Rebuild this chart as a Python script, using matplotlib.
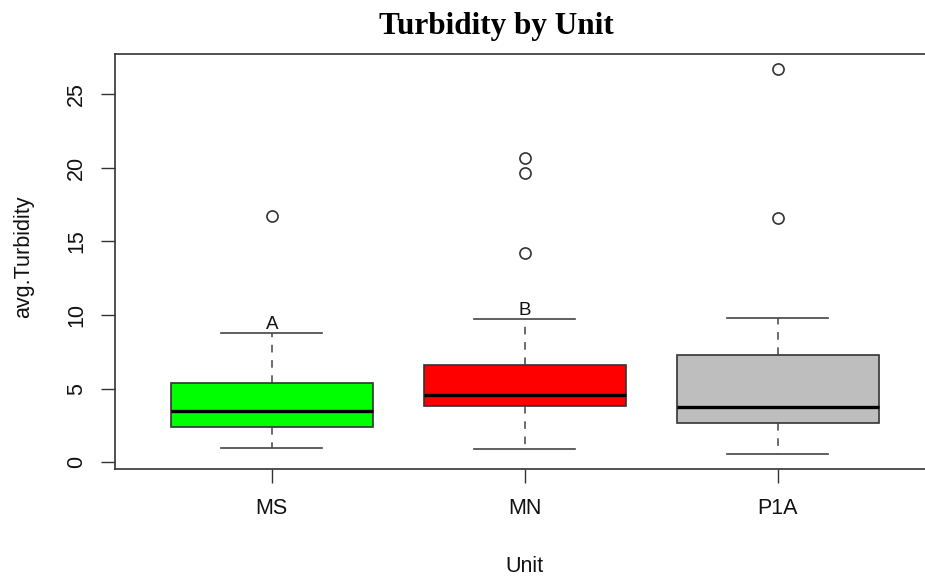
import matplotlib
matplotlib.use("Agg")
import matplotlib.pyplot as plt

# values
units = ["MS", "MN", "P1A"]
q1 = [2.40, 3.84, 2.67]
medians = [3.48, 4.57, 3.73]
q3 = [5.36, 6.58, 7.31]
whisker_low = [0.97, 0.92, 0.59]
whisker_high = [8.80, 9.73, 9.82]
outliers = [[16.74], [20.64, 19.62, 14.19], [26.68, 16.61]]
box_colors = ["#00FF00", "#FF0000", "#BEBEBE"]

# group letters drawn above the whiskers
letters = ["A", "B"]
letter_y = [9.03, 10.0]

W, H = 925, 577
plt.rcParams["font.family"] = ["Liberation Sans", "DejaVu Sans"]

fig = plt.figure(figsize=(W / 100, H / 100), dpi=100)
# plot region runs past the right edge, like the original
ax = fig.add_axes([115 / W, (H - 469.3) / H, 819.6 / W, 415.3 / H])

stats = []
for i, u in enumerate(units):
    stats.append({
        "label": u,
        "q1": q1[i], "med": medians[i], "q3": q3[i],
        "whislo": whisker_low[i], "whishi": whisker_high[i],
        "fliers": outliers[i],
    })

edge = "#333333"
bp = ax.bxp(stats, positions=range(1, len(units) + 1), widths=0.8,
            capwidths=0.4, patch_artist=True, showfliers=True,
            boxprops=dict(edgecolor=edge, linewidth=1.2),
            medianprops=dict(color="black", linewidth=2.4, solid_capstyle="butt"),
            whiskerprops=dict(color="#444444", linewidth=1.1, linestyle=(0, (5, 5))),
            capprops=dict(color="#444444", linewidth=1.2),
            flierprops=dict(marker="o", markersize=8, markerfacecolor="none",
                            markeredgecolor=edge, markeredgewidth=1.2))
for patch, c in zip(bp["boxes"], box_colors):
    patch.set_facecolor(c)

for i, (lab, yv) in enumerate(zip(letters, letter_y)):
    ax.text(i + 1, yv, lab, ha="center", va="baseline", fontsize=13.5, color="#111111")

ax.set_xlim(0.38, 3.62)
ax.set_ylim(-0.475, 27.72)
ax.set_yticks([0, 5, 10, 15, 20, 25])
ax.set_yticklabels(["0", "5", "10", "15", "20", "25"], rotation=90, va="center")
ax.set_xticks([1, 2, 3])
ax.set_xticklabels(units)

for side in ["left", "bottom", "top", "right"]:
    ax.spines[side].set_color(edge)
    ax.spines[side].set_linewidth(1.2)
ax.tick_params(axis="both", length=10, width=1, color=edge, labelsize=15.5,
               labelcolor="#111111")
ax.tick_params(axis="y", pad=10)
ax.tick_params(axis="x", pad=11)

fig.text(496.5 / W, (H - 33.7) / H, "Turbidity by Unit", ha="center", va="baseline",
         family="Liberation Serif", weight="bold", fontsize=22.5)
fig.text(524.8 / W, (H - 572.4) / H, "Unit", ha="center", va="baseline",
         fontsize=15.5, color="#111111")
fig.text(24 / W, (H - 256.7) / H, "avg.Turbidity", ha="center", va="center",
         rotation=90, fontsize=15.5, color="#111111")

fig.savefig("out.png", dpi=100)
